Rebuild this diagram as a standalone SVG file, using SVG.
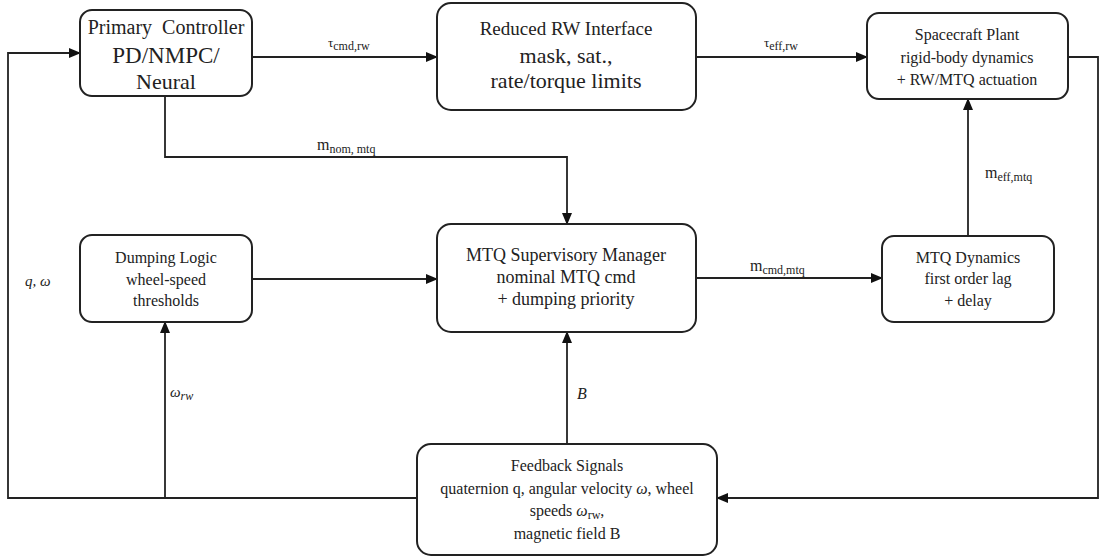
<svg xmlns="http://www.w3.org/2000/svg" width="1100" height="558" viewBox="0 0 1100 558">
<defs>
<marker id="ah" markerWidth="12" markerHeight="10" refX="11" refY="5" orient="auto" markerUnits="userSpaceOnUse">
<path d="M0,0 L12,5 L0,10 Z" fill="#111"/>
</marker>
<style>
.box{fill:#fff;stroke:#222;stroke-width:2}
.t{font-family:'Liberation Serif','DejaVu Serif',serif;fill:#222;text-anchor:middle}
.lbl{font-family:'Liberation Serif','DejaVu Serif',serif;fill:#222}
.c{fill:none;stroke:#222;stroke-width:1.8}
</style>
</defs>
<rect width="1100" height="558" fill="#fff"/>
<g id="connectors">
<path class="c" d="M252,57 H437" marker-end="url(#ah)"/>
<path class="c" d="M696,57 H867" marker-end="url(#ah)"/>
<path class="c" d="M165,96 V157 H567 V224" marker-end="url(#ah)"/>
<path class="c" d="M252,279 H437" marker-end="url(#ah)"/>
<path class="c" d="M696,278 H882" marker-end="url(#ah)"/>
<path class="c" d="M968,236 V99" marker-end="url(#ah)"/>
<path class="c" d="M1068,57 H1098 V498 H717" marker-end="url(#ah)"/>
<path class="c" d="M417,498 H8 V53 H80" marker-end="url(#ah)"/>
<path class="c" d="M165,498 V322" marker-end="url(#ah)"/>
<path class="c" d="M567,444 V332" marker-end="url(#ah)"/>
<text class="lbl" x="328" y="47" font-size="13">τ<tspan dy="3" font-size="12">cmd,rw</tspan></text>
<text class="lbl" x="764" y="47" font-size="13">τ<tspan dy="3" font-size="12">eff,rw</tspan></text>
<text class="lbl" x="317" y="150" font-size="16">m<tspan dy="3" font-size="12">nom, mtq</tspan></text>
<text class="lbl" x="750" y="271" font-size="16">m<tspan dy="3" font-size="12">cmd,mtq</tspan></text>
<text class="lbl" x="985" y="178" font-size="16">m<tspan dy="3" font-size="12">eff,mtq</tspan></text>
<text class="lbl" x="25" y="286" font-size="15" font-style="italic">q, ω</text>
<text class="lbl" x="170" y="397" font-size="15" font-style="italic">ω<tspan dy="3" font-size="12">rw</tspan></text>
<text class="lbl" x="577" y="399" font-size="16" font-style="italic">B</text>
</g>
<g id="primary">
<rect class="box" x="80" y="10" width="172" height="86" rx="12"/>
<text class="t" font-size="20" x="166" y="34" xml:space="preserve">Primary  Controller</text>
<text class="t" font-size="23" x="166" y="63">PD/NMPC/</text>
<text class="t" font-size="22" x="166" y="89">Neural</text>
</g>
<g id="rw-interface">
<rect class="box" x="437" y="3" width="259" height="107" rx="14"/>
<text class="t" font-size="19" x="566" y="35">Reduced RW Interface</text>
<text class="t" font-size="22" x="566" y="63">mask, sat.,</text>
<text class="t" font-size="22" x="566" y="88">rate/torque limits</text>
</g>
<g id="plant">
<rect class="box" x="867" y="13" width="201" height="86" rx="12"/>
<text class="t" font-size="16" x="967" y="40">Spacecraft Plant</text>
<text class="t" font-size="16" x="967" y="63">rigid-body dynamics</text>
<text class="t" font-size="16" x="967" y="85">+ RW/MTQ actuation</text>
</g>
<g id="dumping">
<rect class="box" x="80" y="235" width="172" height="87" rx="12"/>
<text class="t" font-size="16" x="166" y="263">Dumping Logic</text>
<text class="t" font-size="16" x="166" y="285">wheel-speed</text>
<text class="t" font-size="16" x="166" y="306">thresholds</text>
</g>
<g id="supervisor">
<rect class="box" x="437" y="224" width="259" height="108" rx="14"/>
<text class="t" font-size="18" x="566" y="261">MTQ Supervisory Manager</text>
<text class="t" font-size="18" x="566" y="283">nominal MTQ cmd</text>
<text class="t" font-size="18" x="566" y="305">+ dumping priority</text>
</g>
<g id="mtq-dynamics">
<rect class="box" x="882" y="236" width="172" height="86" rx="12"/>
<text class="t" font-size="16" x="968" y="263">MTQ Dynamics</text>
<text class="t" font-size="16" x="968" y="284">first order lag</text>
<text class="t" font-size="16" x="968" y="306">+ delay</text>
</g>
<g id="feedback">
<rect class="box" x="417" y="444" width="300" height="111" rx="14"/>
<text class="t" font-size="16" x="567" y="471">Feedback Signals</text>
<text class="t" font-size="16" x="567" y="494">quaternion q, angular velocity <tspan font-style="italic">ω</tspan>, wheel</text>
<text class="t" font-size="16" x="567" y="516">speeds <tspan font-style="italic">ω</tspan><tspan dy="3" font-size="12">rw</tspan><tspan dy="-3">,</tspan></text>
<text class="t" font-size="16" x="567" y="539">magnetic field B</text>
</g>
</svg>
